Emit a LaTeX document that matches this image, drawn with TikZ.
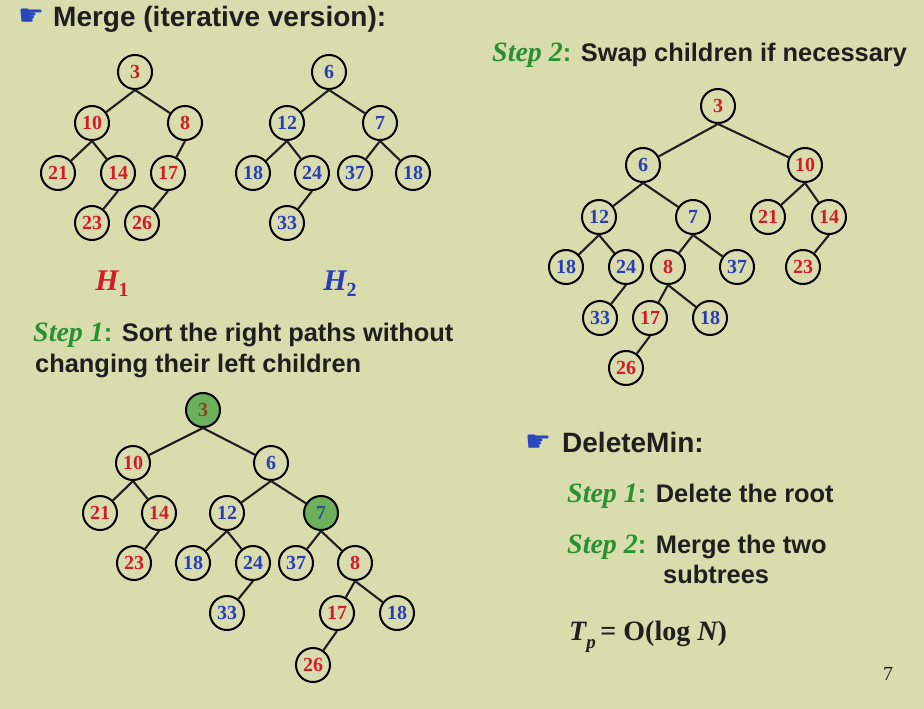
\documentclass[tikz,border=0pt]{standalone}
\usepackage{fontspec}
\setmainfont{Liberation Serif}
\setsansfont{Liberation Sans}
\newfontfamily\symfont{DejaVu Sans}
\definecolor{bgc}{RGB}{217,220,172}
\definecolor{numred}{RGB}{212,28,40}
\definecolor{numblue}{RGB}{40,62,185}
\definecolor{stepgreen}{RGB}{40,145,50}
\definecolor{nodegreen}{RGB}{108,176,92}
\definecolor{brownnum}{RGB}{140,70,30}
\definecolor{tealnum}{RGB}{40,90,140}
\definecolor{handblue}{RGB}{40,70,190}
\newcommand{\steplbl}[1]{{\rmfamily\fontsize{28}{30}\selectfont\bfseries\itshape\color{stepgreen}Step #1}{\color{stepgreen}\sffamily\bfseries:}}
\newcommand{\hand}{{\symfont\fontsize{29}{29}\selectfont\color{handblue}☛}}
\tikzset{
  nd/.style={circle, draw=black, line width=2pt, minimum size=34pt, inner sep=0pt, fill=bgc,
    font=\fontsize{20}{20}\selectfont\bfseries},
  rn/.style={nd, text=numred},
  bn/.style={nd, text=numblue},
  link/.style={line width=2.1pt, draw=black!88},
  txt/.style={anchor=base west, inner sep=0pt, font=\fontsize{25.4}{28}\selectfont\sffamily\bfseries, text=black!88},
  bigtxt/.style={anchor=base west, inner sep=0pt, font=\fontsize{28}{30}\selectfont\sffamily\bfseries, text=black!88},
}
\begin{document}
\begin{tikzpicture}[x=1pt,y=-1pt]
\fill[bgc] (0,0) rectangle (924,709);
\useasboundingbox (0,0) rectangle (924,709);

% headings
\node[anchor=base west, inner sep=0pt] (hand1) at (18,26) {\hand};
\node[bigtxt] (title) at (53,27) {Merge (iterative version):};
\node[txt] (s2title) at (492,62) {\steplbl{2} Swap children if necessary};
\node[txt] (s1a) at (33,341) {\steplbl{1} Sort the right paths without};
\node[txt] (s1b) at (35,372) {changing their left children};

% H1
\node[rn] (a3) at (135,72) {3};
\node[rn] (a10) at (92,123) {10};
\node[rn] (a8) at (185,123) {8};
\node[rn] (a21) at (58,173) {21};
\node[rn] (a14) at (118,173) {14};
\node[rn] (a17) at (168,173) {17};
\node[rn] (a23) at (92,223) {23};
\node[rn] (a26) at (142,223) {26};
\draw[link] (a3.south) -- (a10);
\draw[link] (a3.south) -- (a8);
\draw[link] (a10.south) -- (a21);
\draw[link] (a10.south) -- (a14);
\draw[link] (a14.south) -- (a23);
\draw[link] (a8.south) -- (a17);
\draw[link] (a17.south) -- (a26);
\node[anchor=base, inner sep=0pt, text=numred] (h1) at (112,290) {\fontsize{30}{30}\selectfont\bfseries\itshape H\raisebox{-0.22em}{\fontsize{20}{20}\selectfont\upshape 1}};

% H2
\node[bn] (b6) at (329,72) {6};
\node[bn] (b12) at (287,123) {12};
\node[bn] (b7) at (380,123) {7};
\node[bn] (b18a) at (253,173) {18};
\node[bn] (b24) at (312,173) {24};
\node[bn] (b37) at (355,173) {37};
\node[bn] (b18b) at (413,173) {18};
\node[bn] (b33) at (287,223) {33};
\draw[link] (b6.south) -- (b12);
\draw[link] (b6.south) -- (b7);
\draw[link] (b12.south) -- (b18a);
\draw[link] (b12.south) -- (b24);
\draw[link] (b24.south) -- (b33);
\draw[link] (b7.south) -- (b37);
\draw[link] (b7.south) -- (b18b);
\node[anchor=base, inner sep=0pt, text=numblue] (h2) at (340,290) {\fontsize{30}{30}\selectfont\bfseries\itshape H\raisebox{-0.22em}{\fontsize{20}{20}\selectfont\upshape 2}};

% Step 1 tree
\node[nd, fill=nodegreen, text=brownnum] (c3) at (203,410) {3};
\node[rn] (c10) at (133,463) {10};
\node[bn] (c6) at (271,463) {6};
\node[rn] (c21) at (100,513) {21};
\node[rn] (c14) at (159,513) {14};
\node[bn] (c12) at (227,513) {12};
\node[nd, fill=nodegreen, text=tealnum] (c7) at (321,513) {7};
\node[rn] (c23) at (134,563) {23};
\node[bn] (c18a) at (193,563) {18};
\node[bn] (c24) at (253,563) {24};
\node[bn] (c37) at (296,563) {37};
\node[rn] (c8) at (355,563) {8};
\node[bn] (c33) at (227,613) {33};
\node[rn] (c17) at (337,613) {17};
\node[bn] (c18b) at (397,613) {18};
\node[rn] (c26) at (313,665) {26};
\draw[link] (c3.south) -- (c10);
\draw[link] (c3.south) -- (c6);
\draw[link] (c10.south) -- (c21);
\draw[link] (c10.south) -- (c14);
\draw[link] (c14.south) -- (c23);
\draw[link] (c6.south) -- (c12);
\draw[link] (c6.south) -- (c7);
\draw[link] (c12.south) -- (c18a);
\draw[link] (c12.south) -- (c24);
\draw[link] (c24.south) -- (c33);
\draw[link] (c7.south) -- (c37);
\draw[link] (c7.south) -- (c8);
\draw[link] (c8.south) -- (c17);
\draw[link] (c8.south) -- (c18b);
\draw[link] (c17.south) -- (c26);

% Step 2 tree
\node[rn] (d3) at (718,106) {3};
\node[bn] (d6) at (643,165) {6};
\node[rn] (d10) at (805,165) {10};
\node[bn] (d12) at (599,217) {12};
\node[bn] (d7) at (693,217) {7};
\node[rn] (d21) at (768,217) {21};
\node[rn] (d14) at (829,217) {14};
\node[bn] (d18a) at (566,267) {18};
\node[bn] (d24) at (626,267) {24};
\node[rn] (d8) at (668,267) {8};
\node[bn] (d37) at (737,267) {37};
\node[rn] (d23) at (803,267) {23};
\node[bn] (d33) at (600,318) {33};
\node[rn] (d17) at (650,318) {17};
\node[bn] (d18b) at (710,318) {18};
\node[rn] (d26) at (626,368) {26};
\draw[link] (d3.south) -- (d6);
\draw[link] (d3.south) -- (d10);
\draw[link] (d6.south) -- (d12);
\draw[link] (d6.south) -- (d7);
\draw[link] (d12.south) -- (d18a);
\draw[link] (d12.south) -- (d24);
\draw[link] (d24.south) -- (d33);
\draw[link] (d7.south) -- (d8);
\draw[link] (d7.south) -- (d37);
\draw[link] (d8.south) -- (d17);
\draw[link] (d8.south) -- (d18b);
\draw[link] (d17.south) -- (d26);
\draw[link] (d10.south) -- (d21);
\draw[link] (d10.south) -- (d14);
\draw[link] (d14.south) -- (d23);

% DeleteMin
\node[anchor=base west, inner sep=0pt] (hand2) at (525,451) {\hand};
\node[bigtxt] (dm) at (562,452) {DeleteMin:};
\node[txt] (dm1) at (567,502) {\steplbl{1} Delete the root};
\node[txt] (dm2) at (567,553) {\steplbl{2} Merge the two};
\node[txt] (dm3) at (663,583) {subtrees};
\node[anchor=base west, inner sep=0pt, text=black!88] (tp) at (569,640) {\fontsize{28}{30}\selectfont\bfseries\itshape T\raisebox{-0.3em}{\fontsize{19}{19}\selectfont p}\upshape\,= O(log \itshape N\upshape)};
\node[anchor=base west, inner sep=0pt, text=black!85] (pg) at (883,680) {\fontsize{20}{20}\selectfont 7};
\end{tikzpicture}
\end{document}
